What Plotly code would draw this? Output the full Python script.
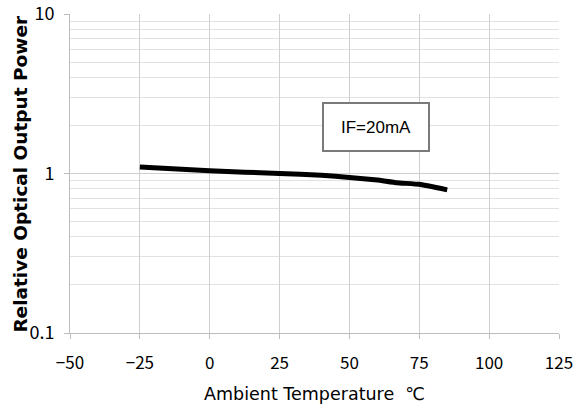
import plotly.graph_objects as go

temps = [-25, 0, 25, 40, 50, 60, 67, 75, 85]
power = [1.10, 1.04, 1.00, 0.975, 0.945, 0.91, 0.875, 0.855, 0.79]

x_ticks = [-50, -25, 0, 25, 50, 75, 100, 125]
x_labels = ["\u221250", "\u221225", "0", "25", "50", "75", "100", "125"]
y_ticks = [0.1, 1, 10]
y_labels = ["0.1", "1", "10"]
y_minor = [0.2, 0.3, 0.4, 0.5, 0.6, 0.7, 0.8, 0.9, 2, 3, 4, 5, 6, 7, 8, 9]

font = "Noto Sans CJK JP, DejaVu Sans, sans-serif"

fig = go.Figure()
fig.add_trace(go.Scatter(x=temps, y=power, mode="lines",
                         line=dict(color="black", width=5, shape="spline", smoothing=0.3)))

fig.update_layout(
    width=587, height=410,
    margin=dict(l=70, r=28, t=14, b=77),
    paper_bgcolor="white", plot_bgcolor="white",
    showlegend=False,
    font=dict(family=font, color="black", size=14),
)
fig.update_xaxes(
    range=[-50, 125], tickvals=x_ticks, ticktext=x_labels, automargin=False,
    showgrid=True, gridcolor="#cfcfcf", gridwidth=1,
    showline=True, linecolor="#bdbdbd", linewidth=1,
    ticks="outside", ticklen=5, tickcolor="#bdbdbd",
    zeroline=False, tickfont=dict(size=17), ticklabelstandoff=10,
    title=dict(text="Ambient Temperature \u00a0\u2103", font=dict(size=17.5, family="DejaVu Sans, sans-serif"), standoff=14),
)
fig.update_yaxes(
    type="log", range=[-1, 1], tickvals=y_ticks, ticktext=y_labels, automargin=False,
    showgrid=True, gridcolor="#cfcfcf", gridwidth=1,
    showline=True, linecolor="#bdbdbd", linewidth=1,
    ticks="outside", ticklen=5, tickcolor="#bdbdbd",
    zeroline=False, tickfont=dict(size=18), ticklabelstandoff=6,
    ticklabeloverflow="allow",
    minor=dict(tickvals=y_minor, showgrid=True, gridcolor="#e2e2e2", gridwidth=1, ticks=""),
)
fig.add_annotation(
    xref="paper", yref="paper", x=-0.102, y=0.5, xanchor="center", yanchor="middle",
    text="<b>Relative Optical Output Power</b>", textangle=-90, showarrow=False,
    font=dict(size=18.5, family="DejaVu Sans, sans-serif"),
)
fig.add_annotation(
    x=59.5, y=0.29, xref="x", yref="y", xanchor="center", yanchor="middle",
    text="IF=20mA", showarrow=False,
    font=dict(size=17, family="Liberation Sans, Arial, sans-serif"),
    bordercolor="#7a7a7a", borderwidth=2, borderpad=8, bgcolor="white",
    width=88, height=30,
)
fig.write_html("out.html", config={"displayModeBar": False},
               post_script="document.body.style.margin='0px';")
